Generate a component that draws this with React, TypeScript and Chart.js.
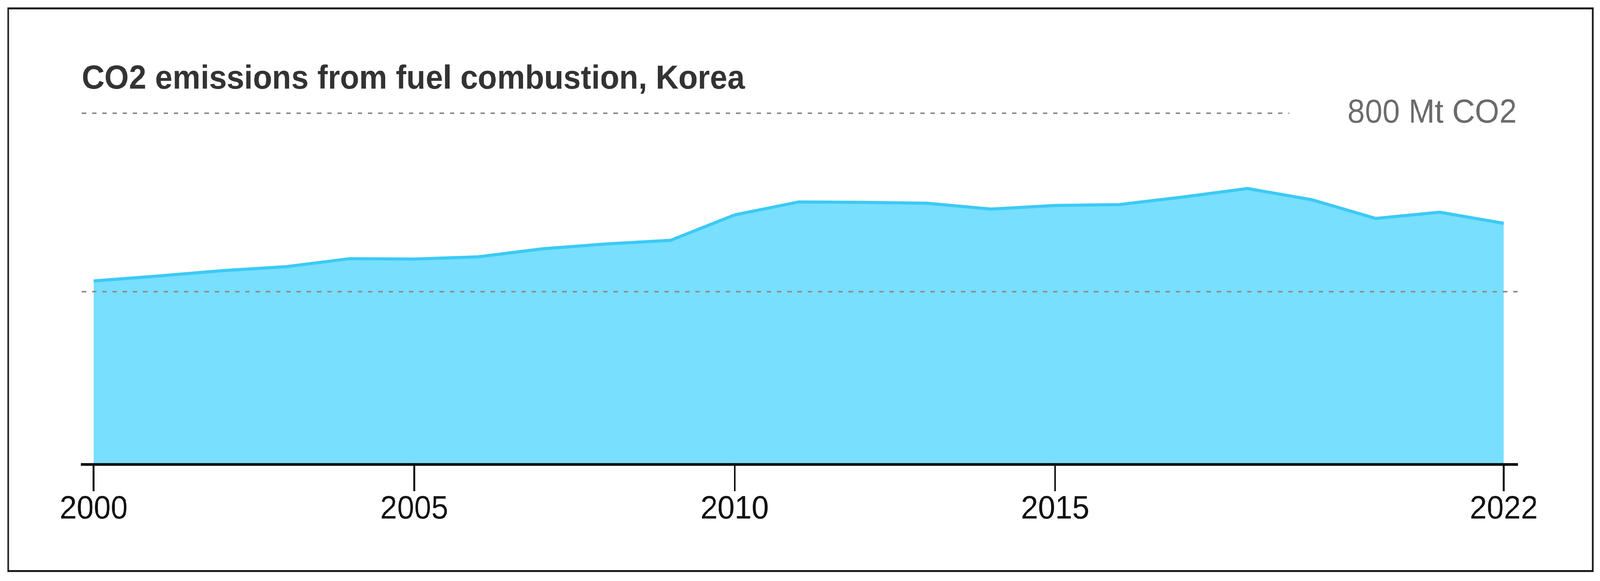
import { useEffect, useRef, useState } from "react"
import { Chart, registerables } from "chart.js"
import type { Plugin } from "chart.js"

Chart.register(...registerables)

// values (Mt CO2)
const years = [2000, 2001, 2002, 2003, 2004, 2005, 2006, 2007, 2008, 2009, 2010, 2011, 2012, 2013, 2014, 2015, 2016, 2017, 2018, 2019, 2020, 2021, 2022]
const emissions = [424, 435, 447, 456, 474, 473, 478, 496, 507, 515, 572, 601, 600, 598, 585, 593, 595, 612, 631, 606, 564, 578, 553]
const tickYears = [2000, 2005, 2010, 2015, 2022]
const gridLevels = [400, 800]
const unit = "Mt CO2"
const chartTitle = "CO2 emissions from fuel combustion, Korea"

const W = 4382
const H = 1488
const FONT = "'Liberation Sans', Arial, Helvetica, sans-serif"
const AXIS_Y = 1189 // pixel row of the baseline
const Y_MIN = 13.5
const Y_MAX = 800

// dashed reference lines over the area; the top one stops short of its unit label
const refLines: Plugin<"line"> = {
  id: "refLines",
  afterDatasetsDraw(chart) {
    const { ctx, chartArea } = chart
    const yScale = chart.scales.y
    const topLabel = `${gridLevels[gridLevels.length - 1]} ${unit}`
    ctx.save()
    ctx.font = `86px ${FONT}`
    const labelW = ctx.measureText(topLabel).width
    gridLevels.forEach((v, i) => {
      const py = Math.round(yScale.getPixelForValue(v))
      const isTop = i === gridLevels.length - 1
      const x1 = isTop ? chartArea.right - 2 - labelW - 160 : chartArea.right
      ctx.strokeStyle = "#8c8c8c"
      ctx.lineWidth = 4
      ctx.setLineDash([12, 16])
      ctx.beginPath()
      ctx.moveTo(chartArea.left, py)
      ctx.lineTo(x1, py)
      ctx.stroke()
      if (isTop) {
        ctx.setLineDash([])
        ctx.fillStyle = "#6b6b6b"
        ctx.textAlign = "right"
        ctx.textBaseline = "middle"
        ctx.fillText(topLabel, chartArea.right - 2, py)
      }
    })
    ctx.restore()
  },
}

export default function App() {
  const canvasRef = useRef<HTMLCanvasElement>(null)
  // the real viewport can be narrower than 4382, so fit the whole drawing into it
  const [fit, setFit] = useState({ sx: 1, sy: 1 })

  useEffect(() => {
    document.body.style.overflow = "hidden"
    setFit({ sx: window.innerWidth / W, sy: window.innerHeight / H })
  }, [])

  useEffect(() => {
    if (!canvasRef.current) return

    const chart = new Chart(canvasRef.current, {
      type: "line",
      data: {
        datasets: [
          {
            data: years.map((x, i) => ({ x, y: emissions[i] })),
            borderColor: "#3ccaf5",
            backgroundColor: "#78dffe",
            borderWidth: 8,
            fill: "start",
            pointRadius: 0,
            tension: 0,
          },
        ],
      },
      options: {
        responsive: false,
        devicePixelRatio: 1,
        animation: false,
        layout: {
          padding: { top: 152, left: 224, right: 226, bottom: 0 },
        },
        scales: {
          x: {
            type: "linear",
            min: 2000 - 0.186,
            max: 2022 + 0.213,
            afterBuildTicks: (scale) => {
              scale.ticks = tickYears.map((value) => ({ value }))
            },
            afterFit: (scale) => {
              scale.height = H - AXIS_Y
            },
            grid: {
              drawOnChartArea: false,
              drawTicks: true,
              tickLength: 69,
              tickWidth: 5,
              tickColor: "#111",
              color: "#111",
            },
            border: { display: true, color: "#111", width: 7, z: 1 },
            ticks: {
              padding: -4,
              color: "#111",
              autoSkip: false,
              maxRotation: 0,
              font: { family: FONT, size: 84 },
              callback: (value) => String(value),
            },
          },
          y: {
            type: "linear",
            display: false,
            min: Y_MIN,
            max: Y_MAX,
          },
        },
        plugins: {
          legend: { display: false },
          tooltip: { enabled: false },
          title: {
            display: true,
            text: chartTitle,
            align: "start",
            color: "#333",
            font: { family: FONT, size: 86, weight: "bold" },
            padding: { top: 0, bottom: 34.4 },
          },
        },
      },
      plugins: [refLines],
    })

    return () => chart.destroy()
  }, [])

  return (
    <div
      style={{
        position: "absolute",
        left: 0,
        top: 0,
        width: W,
        height: H,
        background: "#fff",
        transformOrigin: "0 0",
        transform: `scale(${fit.sx}, ${fit.sy})`,
      }}
    >
      <canvas ref={canvasRef} width={W} height={H} style={{ position: "absolute", left: 0, top: 0 }} />
      <div
        style={{
          position: "absolute",
          left: 20,
          top: 19,
          width: 4345,
          height: 1446,
          border: "5px solid #1c1c1c",
          boxSizing: "border-box",
          pointerEvents: "none",
        }}
      />
    </div>
  )
}
